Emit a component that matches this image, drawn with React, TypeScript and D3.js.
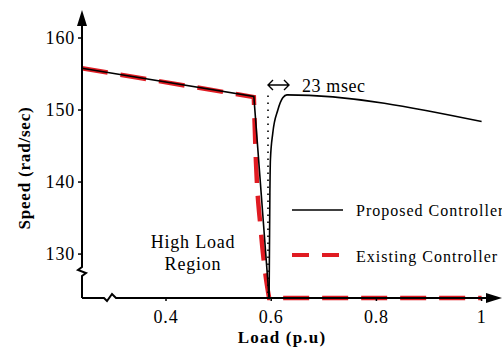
import React from "react";
import * as d3 from "d3";

const proposedLoad = [0.2403, 0.567, 0.596, 0.5975, 0.5985, 0.603, 0.6126, 0.622, 0.63, 1.0];
const proposedSpeed = [155.8, 151.9, 123.9, 138.5, 143.1, 146.8, 150.0, 151.7, 152.1, 148.4];
const existingLoad = [0.2403, 0.567, 0.571, 0.58, 0.589, 0.596, 1.0];
const existingSpeed = [155.8, 151.8, 142.9, 133.5, 127.2, 123.9, 123.9];
const xTicks = [0.4, 0.6, 0.8, 1];
const yTicks = [130, 140, 150, 160];
const legendLabels = ["Proposed Controller", "Existing Controller"];

const W = 502, H = 350;
const FONT = "Liberation Serif";
const RED = "#e01b22";

export default function App() {
  const x = d3.scaleLinear().domain([0.2403, 1]).range([82, 481.6]);
  const y = d3.scaleLinear().domain([123.9, 160]).range([298, 38]);
  const line = d3.line<[number, number]>().x(d => x(d[0])).y(d => y(d[1]));
  const smooth = d3.line<[number, number]>().x(d => x(d[0])).y(d => y(d[1])).curve(d3.curveMonotoneX);
  const prop: [number, number][] = proposedLoad.map((v, i) => [v, proposedSpeed[i]]);
  const exist: [number, number][] = existingLoad.map((v, i) => [v, existingSpeed[i]]);
  const x0 = x.range()[0];
  const y0 = y.range()[0];
  const propA = prop.slice(0, 3);
  const propB = prop.slice(2);
  const existA = exist.slice(0, 2);
  const existB = exist.slice(1, 6);
  const existC = exist.slice(5);
  const existPath = (line(existA) || "") + (smooth(existB) || "").replace(/^M/, "L") + (line(existC) || "").replace(/^M/, "L");
  const ts = { fontFamily: FONT } as React.CSSProperties;
  return (
    <svg width={W} height={H} style={{ position: "absolute", left: 0, top: 0, background: "#fff", fontFamily: FONT }}>
      <path d={existPath} fill="none" stroke={RED} strokeWidth={4.5} strokeDasharray="26 13" />
      <path d={line(propA) || ""} fill="none" stroke="#000" strokeWidth={1.6} />
      <path d={smooth(propB) || ""} fill="none" stroke="#000" strokeWidth={1.6} />
      <line x1={268} x2={268} y1={y(152)} y2={y0} stroke="#000" strokeWidth={1.6} strokeDasharray="1.5 5.5" />
      <path d={`M${x0},${y0} L${x0},276 L${x0 + 4},273 L${x0 - 4},270 L${x0},267 L${x0},20`} fill="none" stroke="#000" strokeWidth={2} />
      <path d={`M${x0 - 5},${26} L${x0},${10} L${x0 + 5},${26} Z`} fill="#000" />
      <path d={`M${x0},${y0} L104,${y0} L107,${y0 + 3} L112,${y0 - 4} L116,${y0} L490,${y0}`} fill="none" stroke="#000" strokeWidth={2} />
      <path d={`M486,${y0 - 5} L502,${y0} L486,${y0 + 5} Z`} fill="#000" />
      {yTicks.map(t => (
        <g key={t}>
          <line x1={x0 - 4} x2={x0} y1={y(t)} y2={y(t)} stroke="#000" strokeWidth={1.5} />
          <text style={ts} x={x0 - 7} y={y(t) + 6} textAnchor="end" fontSize={18} letterSpacing={0.8}>{t}</text>
        </g>
      ))}
      {xTicks.map(t => (
        <g key={t}>
          <line x1={x(t)} x2={x(t)} y1={y0} y2={y0 + 3} stroke="#000" strokeWidth={1.5} />
          <text style={ts} x={x(t)} y={y0 + 25} textAnchor="middle" fontSize={18} letterSpacing={0.8}>{t}</text>
        </g>
      ))}
      <text style={ts} transform={`translate(30,168) rotate(-90)`} textAnchor="middle" fontSize={17} fontWeight="bold" letterSpacing={0.8}>Speed (rad/sec)</text>
      <text style={ts} x={282} y={343} textAnchor="middle" fontSize={17} fontWeight="bold" letterSpacing={1.2}>Load (p.u)</text>
      <path d="M268,85 L289,85 M273,80 L268,85 L273,90 M284,80 L289,85 L284,90" fill="none" stroke="#000" strokeWidth={1.4} />
      <text style={ts} x={302} y={92} fontSize={18} letterSpacing={0.6}>23 msec</text>
      <text style={ts} x={193} y={248} textAnchor="middle" fontSize={18} letterSpacing={0.8}>High Load</text>
      <text style={ts} x={193} y={270} textAnchor="middle" fontSize={18} letterSpacing={0.8}>Region</text>
      <line x1={292} x2={343} y1={210} y2={210} stroke="#000" strokeWidth={1.6} />
      <text style={ts} x={356} y={216} fontSize={16} letterSpacing={1}>{legendLabels[0]}</text>
      <line x1={292} x2={343} y1={255} y2={255} stroke={RED} strokeWidth={4} strokeDasharray="17 13" />
      <text style={ts} x={356} y={262} fontSize={16} letterSpacing={1}>{legendLabels[1]}</text>
    </svg>
  );
}
